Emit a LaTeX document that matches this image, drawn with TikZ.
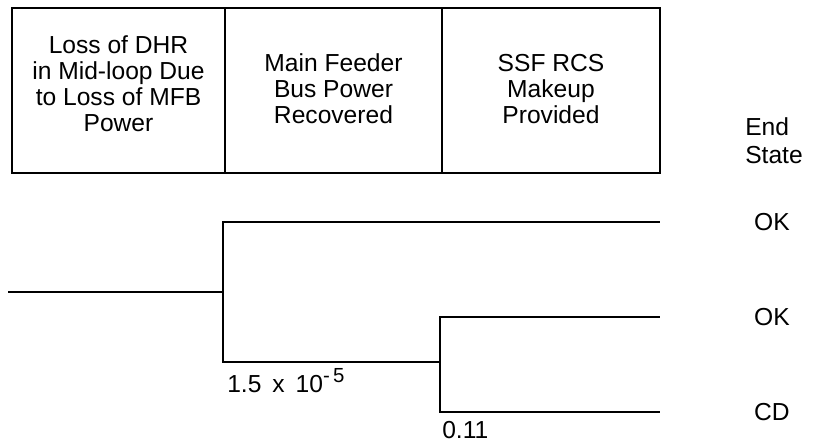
\documentclass[tikz,border=0pt]{standalone}
\usepackage{fontspec}
\setmainfont{Liberation Sans}
\usetikzlibrary{positioning}
\tikzset{
  head_box/.style={rectangle, draw=black, line width=2pt, minimum height=4.125cm, inner sep=0pt},
  head_text/.style={align=center, inner sep=0pt, font=\fontsize{17.5}{18.5}\selectfont},
  branch/.style={-, line width=2pt, black},
  end_label/.style={font=\fontsize{17.5}{19.9}\selectfont, inner sep=0pt},
  prob_label/.style={font=\fontsize{17.5}{19.9}\selectfont, inner sep=0pt, anchor=base west}
}

\begin{document}
\begin{tikzpicture}[x=0.025cm, y=-0.025cm]

  % --- Frame ---
  \useasboundingbox (0,0) rectangle (825,444);

  % --- Geometry Definitions ---
  \def\xStart{8}
  \def\xSplitOne{223}
  \def\xSplitTwo{440}
  \def\xEnd{660}
  \def\xState{772}

  % --- Header boxes ---
  \node[head_box, minimum width=5.325cm] (hdr_init) at (118.5,90.5) {};
  \node[head_box, minimum width=5.425cm] (hdr_mfb) at (333.5,90.5) {};
  \node[head_box, minimum width=5.45cm] (hdr_ssf) at (551,90.5) {};

  \node[head_text] (txt_init) at (118.5,84) {Loss of DHR\\in Mid-loop Due\\to Loss of MFB\\Power};
  \node[head_text] (txt_mfb) at (333.5,89) {Main Feeder\\Bus Power\\Recovered};
  \node[head_text] (txt_ssf) at (551,89) {SSF RCS\\Makeup\\Provided};

  \node[end_label, align=left, anchor=west] (end_state) at (745,141) {End\\State};

  % --- Branch points ---
  \coordinate (init) at (\xStart,292);
  \coordinate (split_mfb) at (\xSplitOne,292);
  \coordinate (split_ssf) at (\xSplitTwo,362);
  \coordinate (seq_one) at (\xEnd,222);
  \coordinate (seq_two) at (\xEnd,317);
  \coordinate (seq_three) at (\xEnd,412);

  % --- Tree ---
  \draw[branch] (init) -- (split_mfb);
  \draw[branch] (split_mfb) |- (seq_one);
  \draw[branch] (split_mfb) |- (split_ssf);
  \draw[branch] (split_ssf) |- (seq_two);
  \draw[branch] (split_ssf) |- (seq_three);

  % --- Probabilities ---
  \node[prob_label] (p_mfb) at (227,393)
    {1.5\, x\, 10\raisebox{0.42em}{\fontsize{14.5}{14.5}\selectfont -\,5}};
  \node[prob_label] (p_ssf) at (442,439) {0.11};

  % --- End states ---
  \node[end_label] (es_one) at (\xState,222) {OK};
  \node[end_label] (es_two) at (\xState,317) {OK};
  \node[end_label] (es_three) at (\xState,412) {CD};

\end{tikzpicture}
\end{document}
